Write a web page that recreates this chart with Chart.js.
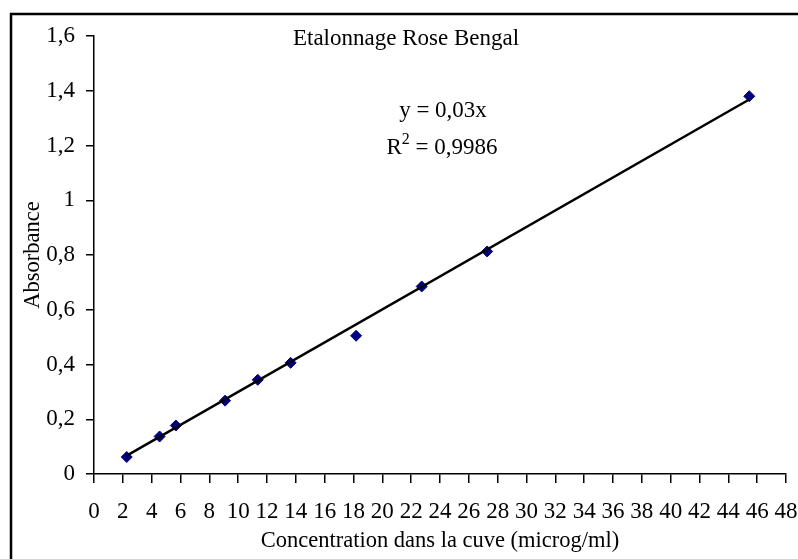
<!DOCTYPE html>
<html>
<head>
<meta charset="utf-8">
<script src="https://cdn.jsdelivr.net/npm/chart.js@4"></script>
<style>
  html, body { margin: 0; padding: 0; background: #fff; }
  #wrap { width: 798px; height: 559px; }
</style>
</head>
<body>
<div id="wrap"><canvas id="etalonnage" width="798" height="559"></canvas></div>
<script>
// concentration (microg/ml) and absorbance
const concentrations = [2.27, 4.55, 5.68, 9.09, 11.36, 13.64, 18.18, 22.73, 27.27, 45.45];
const absorbances = [0.062, 0.137, 0.177, 0.268, 0.344, 0.406, 0.505, 0.685, 0.813, 1.380];

// linear trendline (y = 0,03x), end points
const trendX = [2.27, 45.45];
const trendY = [0.067, 1.368];

const xTickLabels = ['0', '2', '4', '6', '8', '10', '12', '14', '16', '18', '20', '22', '24',
    '26', '28', '30', '32', '34', '36', '38', '40', '42', '44', '46', '48'];
const yTickLabels = ['0', '0,2', '0,4', '0,6', '0,8', '1', '1,2', '1,4', '1,6'];

const titleText = 'Etalonnage Rose Bengal';
const equationText = 'y = 0,03x';
const r2Value = '0,9986';

const serif = 'Liberation Serif';
const fontSize = 23;
const axisTitleSize = 22.5;

// frame around the chart + title and equation inside the plot
const decorations = {
    id: 'decorations',
    beforeDraw: (chart) => {
        const ctx = chart.ctx;
        ctx.save();
        ctx.strokeStyle = '#000';
        ctx.lineWidth = 2.5;
        ctx.strokeRect(11, 14, 800, 560);
        ctx.restore();
    },
    afterDraw: (chart) => {
        const ctx = chart.ctx;
        ctx.save();
        ctx.fillStyle = '#000';
        ctx.textBaseline = 'alphabetic';
        ctx.font = `${fontSize}px "${serif}"`;
        ctx.textAlign = 'center';
        ctx.fillText(titleText, 406, 45);
        ctx.fillText(equationText, 443, 117);

        // R² = ... with a raised 2
        const left = 'R';
        const right = ' = ' + r2Value;
        const supFont = `${Math.round(fontSize * 0.7)}px "${serif}"`;
        ctx.textAlign = 'left';
        const wL = ctx.measureText(left).width;
        const wR = ctx.measureText(right).width;
        ctx.font = supFont;
        const wS = ctx.measureText('2').width;
        const x0 = 442 - (wL + wS + wR) / 2;
        ctx.font = `${fontSize}px "${serif}"`;
        ctx.fillText(left, x0, 154);
        ctx.fillText(right, x0 + wL + wS, 154);
        ctx.font = supFont;
        ctx.fillText('2', x0 + wL, 144);
        ctx.restore();
    }
};

const ctx = document.getElementById('etalonnage').getContext('2d');
new Chart(ctx, {
    type: 'scatter',
    data: {
        datasets: [
            {
                label: 'Linéaire',
                type: 'line',
                data: trendX.map((x, i) => ({ x: x, y: trendY[i] })),
                borderColor: '#000',
                borderWidth: 2.5,
                pointRadius: 0,
                fill: false,
                tension: 0
            },
            {
                label: 'Absorbance',
                data: concentrations.map((x, i) => ({ x: x, y: absorbances[i] })),
                backgroundColor: '#000080',
                borderColor: '#000080',
                pointStyle: 'rectRot',
                pointRadius: 5.5,
                pointBorderWidth: 1
            }
        ]
    },
    options: {
        responsive: false,
        animation: false,
        layout: { padding: { top: 36, right: 12, left: 0, bottom: 0 } },
        plugins: {
            legend: { display: false },
            tooltip: { enabled: false }
        },
        scales: {
            x: {
                type: 'linear',
                min: 0,
                max: 48,
                afterFit: (scale) => {
                    scale.height = 85;
                    scale.paddingLeft = 0;
                    scale.paddingRight = 0;
                },
                ticks: {
                    stepSize: 2,
                    autoSkip: false,
                    maxRotation: 0,
                    padding: 15,
                    color: '#000',
                    font: { family: serif, size: fontSize },
                    callback: (value) => xTickLabels[Math.round(value / 2)]
                },
                grid: { drawOnChartArea: false, drawTicks: true, tickLength: 9, color: '#000', lineWidth: 1.5 },
                border: { color: '#000', width: 1.5 },
                title: {
                    display: true,
                    text: 'Concentration dans la cuve (microg/ml)',
                    color: '#000',
                    font: { family: serif, size: axisTitleSize },
                    padding: { top: 0, bottom: 4 }
                }
            },
            y: {
                min: 0,
                max: 1.6,
                afterFit: (scale) => { scale.width = 94; },
                ticks: {
                    stepSize: 0.2,
                    padding: 11,
                    color: '#000',
                    font: { family: serif, size: fontSize },
                    callback: (value) => yTickLabels[Math.round(value / 0.2)]
                },
                grid: { drawOnChartArea: false, drawTicks: true, tickLength: 8, color: '#000', lineWidth: 1.5 },
                border: { color: '#000', width: 1.5 },
                title: {
                    display: true,
                    text: 'Absorbance',
                    color: '#000',
                    font: { family: serif, size: axisTitleSize },
                    padding: { top: 20, bottom: 0 }
                }
            }
        }
    },
    plugins: [decorations]
});
</script>
</body>
</html>
